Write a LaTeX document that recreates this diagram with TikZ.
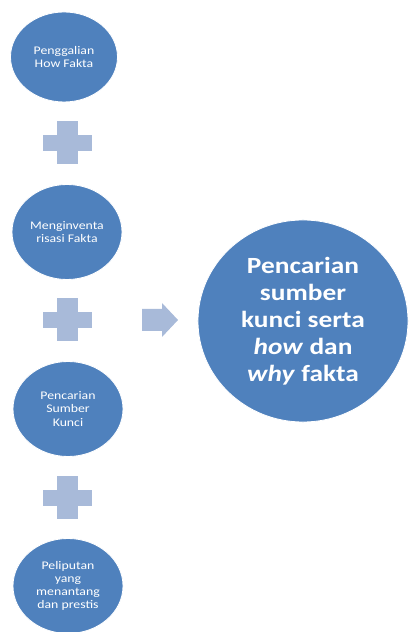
\documentclass[tikz,border=0pt]{standalone}
\usepackage{fontspec}
\setmainfont{Carlito}
\newfontfamily\widefont[FakeStretch=1.18]{Carlito}
\usepackage{tikz}
\usetikzlibrary{shapes.geometric}

\definecolor{stepblue}{RGB}{79,129,189}
\definecolor{plusblue}{RGB}{168,186,217}

\tikzset{
  stepnode/.style={ellipse, fill=stepblue, draw=white, line width=0.6pt, inner sep=0pt,
    minimum width=2.75cm, minimum height=2.375cm, text=white, align=center,
    font=\widefont\fontsize{8.3}{9.3}\selectfont},
  resultnode/.style={stepnode, minimum width=5.25cm, minimum height=5.05cm,
    font=\widefont\bfseries\fontsize{16.5}{19.2}\selectfont}
}

\begin{document}
\begin{tikzpicture}[x=0.025cm, y=0.025cm]
  \useasboundingbox (0,0) rectangle (409,632);

  % Steps
  \node[stepnode, minimum width=2.675cm, minimum height=2.25cm] (step1) at (64,575) {Penggalian\\How Fakta};
  \node[stepnode] (step2) at (67,400) {Menginventa\\risasi Fakta};
  \node[stepnode] (step3) at (68,223) {Pencarian\\Sumber\\Kunci};
  \node[stepnode] (step4) at (68,46) {Peliputan\\yang\\menantang\\dan prestis};

  % Plus signs
  \foreach \y in {489,312,134} {
    \fill[plusblue] (42.5,\y-8) rectangle (91.5,\y+8);
    \fill[plusblue] (56.5,\y-21.5) rectangle (77.5,\y+21.5);
  }

  % Arrow
  \fill[plusblue] (142,301) -- (162,301) -- (162,295) -- (178,312)
    -- (162,329) -- (162,323) -- (142,323) -- cycle;

  % Result
  \node[resultnode] (result) at (303,311) {Pencarian\\sumber\\kunci serta\\\textit{how} dan\\\textit{why} fakta};
\end{tikzpicture}
\end{document}
